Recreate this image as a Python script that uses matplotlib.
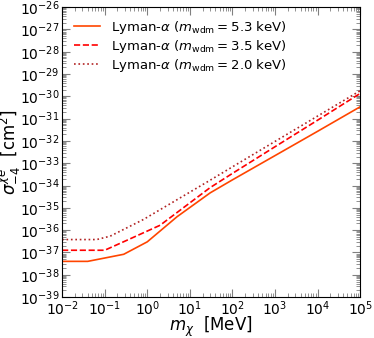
import numpy as np
import matplotlib
matplotlib.use('Agg')
from matplotlib import pyplot as plt
from matplotlib.ticker import LogLocator, NullFormatter

# (MeV, cm^2)
m_53 = [1e-2, 4e-2, 0.28, 1.0, 5.0, 30, 100, 1e3, 1e4, 1e5]
sig_53 = [4e-38, 4e-38, 8.3e-38, 3e-37, 4e-36, 4.7e-35, 1.8e-34, 2.2e-33, 2.7e-32, 3.4e-31]

m_35 = [1e-2, 0.1, 0.33, 2.0, 30, 100, 1e3, 1e4, 1e5]
sig_35 = [1.26e-37, 1.26e-37, 3.5e-37, 1.66e-36, 8.1e-35, 3.5e-34, 5.5e-33, 8.5e-32, 1.35e-30]

m_20 = [1e-2, 0.065, 0.135, 0.81, 30, 100, 1e3, 1e4, 1e5]
sig_20 = [3.8e-37, 3.8e-37, 5.4e-37, 3.0e-36, 1.74e-34, 6.9e-34, 9.5e-33, 1.3e-31, 1.78e-30]

labels = [r'Lyman-$\alpha$ ($m_{\rm wdm} = 5.3$ keV)',
          r'Lyman-$\alpha$ ($m_{\rm wdm} = 3.5$ keV)',
          r'Lyman-$\alpha$ ($m_{\rm wdm} = 2.0$ keV)']

fig = plt.figure(figsize=(3.74, 3.38), dpi=100)
ax = fig.add_axes([0.166, 0.121, 0.797, 0.858])

ax.plot(m_53, sig_53, '-', color='#ff4500', lw=1.2, label=labels[0])
ax.plot(m_35, sig_35, '--', color='red', lw=1.2, label=labels[1])
ax.plot(m_20, sig_20, ':', color='#b22222', lw=1.2, label=labels[2])

ax.set_xscale('log')
ax.set_yscale('log')
ax.set_xlim(1e-2, 1e5)
ax.set_ylim(1e-39, 1e-26)

ax.set_yticks([10.0 ** k for k in range(-39, -25)])
ax.yaxis.set_minor_locator(LogLocator(base=10, subs=np.arange(2, 10), numticks=100))
ax.yaxis.set_minor_formatter(NullFormatter())
ax.xaxis.set_major_locator(LogLocator(base=10, numticks=20))
ax.xaxis.set_minor_locator(LogLocator(base=10, subs=np.arange(2, 10), numticks=100))
ax.xaxis.set_minor_formatter(NullFormatter())

ax.tick_params(which='both', direction='in', top=True, right=True, colors='gray',
               labelcolor='black', labelsize=10)
ax.tick_params(which='major', length=6, pad=2)
ax.tick_params(which='minor', length=3)

ax.set_xlabel(r'$m_\chi$  [MeV]', fontsize=12)
ax.set_ylabel(r'$\sigma^{\chi e}_{-4}$  [cm$^2$]', fontsize=12)
ax.xaxis.set_label_coords(0.5, -0.06)
ax.yaxis.set_label_coords(-0.13, 0.5)

ax.legend(loc='upper left', frameon=False, fontsize=9.5, handlelength=2.0,
          borderaxespad=0.5, labelspacing=0.15)

fig.savefig('out.png', dpi=100)
